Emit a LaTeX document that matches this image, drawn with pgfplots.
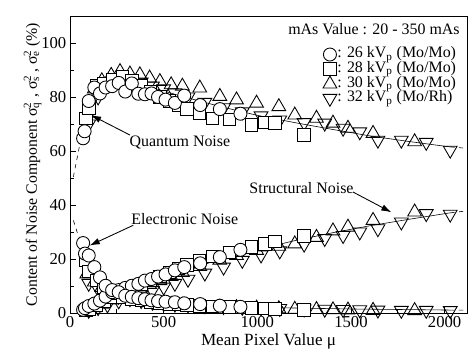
\documentclass[border=0pt]{standalone}
\usepackage{fontspec}
\setmainfont{Liberation Serif}
\usepackage{pgfplots}
\pgfplotsset{compat=1.18}
\usetikzlibrary{arrows.meta}
\begin{document}
\begin{tikzpicture}[font=\fontsize{11}{13}\selectfont]
\begin{axis}[name=ax,
  width=274pt, height=205pt, scale only axis,
  xmin=0, xmax=2120, ymin=0, ymax=110,
  xtick={0,500,...,2000}, ytick={0,20,...,100},
  minor x tick num=1, minor y tick num=1,
  tick align=inside, xtick pos=left, ytick pos=left,
  major tick length=4pt, minor tick length=2.5pt,
  tick style={black, line width=0.6pt},
  axis line style={line width=0.6pt},
  /pgf/number format/assume math mode=true,
  /pgf/number format/1000 sep={},
  ticklabel style={font=\fontsize{11.5}{13}\selectfont},
  xticklabel style={yshift=1pt},
  yticklabel style={xshift=1pt},
  xlabel={Mean Pixel Value μ},
  ylabel={Content of Noise Component σ\rlap{\textsuperscript{2}}\textsubscript{q} , σ\rlap{\textsuperscript{2}}\textsubscript{s} , σ\rlap{\textsuperscript{2}}\textsubscript{e} (\%)},
  xlabel style={yshift=3pt, font=\fontsize{11.8}{13}\selectfont},
  ylabel style={yshift=-7pt, font=\fontsize{10.9}{13}\selectfont},
  legend style={draw=none, fill=none, at={(rel axis cs:0.985,0.905)}, anchor=north east,
    row sep=0pt, column sep=0pt,
    nodes={inner sep=0.3pt, text height=7pt, text depth=2.3pt}},
  legend cell align=left,
  legend image code/.code={\draw[#1] plot coordinates {(0cm,0cm)};},
]
% legend
\addlegendimage{only marks, mark=o, mark size=4.5pt, mark options={fill=white, line width=0.6pt}}
\addlegendentry{: 26 kV\textsubscript{p} (Mo/Mo)}
\addlegendimage{only marks, mark=square, mark size=4.3pt, mark options={fill=white, line width=0.6pt}}
\addlegendentry{: 28 kV\textsubscript{p} (Mo/Mo)}
\addlegendimage{only marks, mark=triangle, mark size=5.5pt, mark options={fill=white, line width=0.6pt}}
\addlegendentry{: 30 kV\textsubscript{p} (Mo/Mo)}
\addlegendimage{only marks, mark=triangle, mark size=5.5pt, mark options={fill=white, line width=0.6pt, rotate=180}}
\addlegendentry{: 32 kV\textsubscript{p} (Mo/Rh)}

% fit lines
\addplot[black, thin, dashed, forget plot] coordinates {(18,50.4)(50,61.6)(70,64)};
\addplot[black, thin, forget plot] coordinates {(70,64)(100,72)(150,80)(200,83.5)(250,84.8)(300,85.2)(400,84.2)(500,82.2)(600,80.2)(800,76.5)(1000,73.2)(1200,70.5)(1400,68)(1600,65.6)(1800,63.6)(2030,61.5)};
\addplot[black, thin, dashed, forget plot] coordinates {(2030,61.5)(2117,61)};
\addplot[black, thin, dashed, forget plot] coordinates {(40,0.2)(60,0.5)};
\addplot[black, thin, forget plot] coordinates {(60,0.5)(100,1.8)(200,4.5)(300,7.5)(400,10.3)(500,13)(600,15.5)(800,19.8)(1000,23.5)(1200,26.8)(1400,29.7)(1600,32.3)(1800,34.6)(2030,37.1)};
\addplot[black, thin, dashed, forget plot] coordinates {(2030,37.1)(2117,37.8)};
\addplot[black, thin, dashed, forget plot] coordinates {(18,34.3)(44,28.7)(70,25)};
\addplot[black, thin, forget plot] coordinates {(70,25)(100,18.5)(150,12.8)(200,9.6)(300,6.6)(400,5.1)(500,4.1)(700,3)(1000,2.1)(1500,1.5)(2030,1.1)};
\addplot[black, thin, dashed, forget plot] coordinates {(2030,1.1)(2117,1.05)};

% 32 kVp (Mo/Rh) down triangles
\pgfplotsset{dtri/.style={only marks, mark=triangle, mark size=5.5pt, mark options={fill=white, draw=black, line width=0.6pt, rotate=180}, forget plot}}
\addplot[dtri] coordinates {(100,70)(150,80)(200,85)(260,87)(320,86.5)(380,85.5)(440,84)(500,83)(560,81.5)(630,80)(720,78)(820,76)(920,74.5)(1020,73)(1120,71.5)(1250,70.5)(1360,70.3)(1458,68.4)(1547,67.1)(1644,64)(1769,64)(1902,63.2)(2030,60.3)};
\addplot[dtri] coordinates {(100,1)(150,2)(200,3)(260,4.5)(320,5.8)(380,7)(440,8.3)(500,9.6)(560,11)(630,12.5)(720,14.8)(820,17)(920,19.5)(1020,21.5)(1120,23)(1250,25.5)(1360,27.6)(1458,28.7)(1547,30)(1644,31.2)(1769,33.7)(1902,36.8)(2030,36.6)};
\addplot[dtri] coordinates {(100,11)(150,9)(200,7.5)(260,6.2)(320,5.3)(380,4.6)(440,4)(500,3.6)(560,3.3)(630,3)(720,2.7)(820,2.4)(920,2.1)(1020,1.9)(1120,1.7)(1250,1.5)(1360,1.4)(1458,1.3)(1547,1.2)(1644,1.1)(1769,1)(1902,1)(2030,0.9)};

% 30 kVp up triangles
\pgfplotsset{utri/.style={only marks, mark=triangle, mark size=5.5pt, mark options={fill=white, draw=black, line width=0.6pt}, forget plot}}
\addplot[utri] coordinates {(90,74)(130,83)(170,86)(220,88)(267,89.4)(320,88.5)(373,88.2)(425,87)(480,85.7)(540,84.5)(600,84)(693,83.3)(800,80.2)(889,78.9)(996,77.7)(1115,76.4)(1200,73.3)(1316,72.1)(1404,70.3)(1484,68.4)(1618,66.5)(1840,63.4)};
\addplot[utri] coordinates {(90,1)(130,2)(170,3.3)(220,4.8)(267,6.2)(320,7.8)(373,9.2)(425,10.6)(480,12)(540,13.5)(600,15)(693,17.2)(800,19.6)(889,21.3)(996,23.2)(1115,24.7)(1200,25.6)(1316,28)(1404,30.4)(1484,31.8)(1618,34.3)(1840,37.4)};
\addplot[utri] coordinates {(90,14.5)(130,11.5)(170,9.5)(220,7.5)(267,6.3)(320,5.3)(373,4.6)(425,4)(480,3.6)(540,3.2)(600,2.9)(693,2.5)(800,2.2)(889,2)(996,1.8)(1115,1.6)(1200,1.4)(1316,1.3)(1404,1.2)(1484,1.1)(1618,1)(1840,0.9)};

% 28 kVp squares
\pgfplotsset{sq/.style={only marks, mark=square*, mark size=4.3pt, mark options={fill=white, draw=black, line width=0.6pt}, forget plot}}
\addplot[sq] coordinates {(85,72)(100,76)(140,84)(180,85)(230,86.5)(280,87.5)(330,86)(380,84)(430,82)(480,80)(530,78.5)(580,77)(625,75.5)(690,74)(760,72)(850,71.7)(970,69.6)(1040,70.5)(1095,70.3)(1250,65.9)};
\addplot[sq] coordinates {(85,1)(100,1.5)(140,3)(180,4.5)(230,6)(280,7.5)(330,9)(380,10.5)(430,12)(480,13.5)(530,15)(580,16.5)(625,17.8)(690,19.5)(760,21)(850,22.5)(970,24.5)(1040,25.6)(1095,26.5)(1250,28.5)};
\addplot[sq] coordinates {(85,19.5)(100,15.5)(140,12)(180,9.5)(230,7.5)(280,6)(330,5.2)(380,4.6)(430,4)(480,3.7)(530,3.4)(580,3.2)(625,3)(690,2.7)(760,2.4)(850,2.2)(970,1.9)(1040,1.7)(1095,1.5)(1250,1.1)};

% 26 kVp circles
\pgfplotsset{circ/.style={only marks, mark=*, mark size=4.5pt, mark options={fill=white, draw=black, line width=0.6pt}, forget plot}}
\addplot[circ] coordinates {(70,64.7)(78,67.3)(100,78.5)(130,83.5)(160,81.3)(190,83.5)(225,84)(260,85.2)(295,82)(330,85)(365,81.2)(400,81)(435,81.3)(470,80)(510,79)(560,77.8)(610,80.5)(695,77)(800,75.5)(910,73.8)};
\addplot[circ] coordinates {(70,1.2)(80,1.8)(100,2.6)(130,3.5)(160,4.6)(190,6.1)(225,7.7)(260,8.5)(295,9.3)(330,10.1)(365,10.8)(400,12)(435,12.6)(470,13.5)(510,14.3)(560,15.8)(610,17)(695,18.4)(800,20.7)(910,23.4)};
\addplot[circ] coordinates {(70,25.9)(80,22)(100,21.3)(130,17)(160,13.2)(190,10.1)(225,8.5)(260,7.7)(295,6.4)(330,6)(365,5.5)(400,5.1)(435,4.7)(470,4.4)(510,4.2)(560,4)(610,3.6)(695,3.3)(800,2.7)(910,2.3)};

% annotations
\node[anchor=north east, inner sep=0pt] at (rel axis cs:0.982,0.975) {mAs Value : 20 - 350 mAs};
\node at (axis cs:587,63) {Quantum Noise};
\draw[-{Latex[length=7pt,width=4.5pt]}, line width=0.6pt] (axis cs:320,65.9) -- (axis cs:112,73.3);
\node at (axis cs:613,34.7) {Electronic Noise};
\draw[-{Latex[length=7pt,width=4.5pt]}, line width=0.6pt] (axis cs:338,32.5) -- (axis cs:105,25);
\node at (axis cs:1236,46.3) {Structural Noise};
\draw[-{Latex[length=7pt,width=4.5pt]}, line width=0.6pt] (axis cs:1511,44.8) -- (axis cs:1716,37.3);
\end{axis}
\pgfresetboundingbox
\path[use as bounding box] ([xshift=-48.3pt,yshift=-28.3pt]ax.south west) rectangle ([xshift=3.4pt,yshift=11pt]ax.north east);
\end{tikzpicture}
\end{document}
